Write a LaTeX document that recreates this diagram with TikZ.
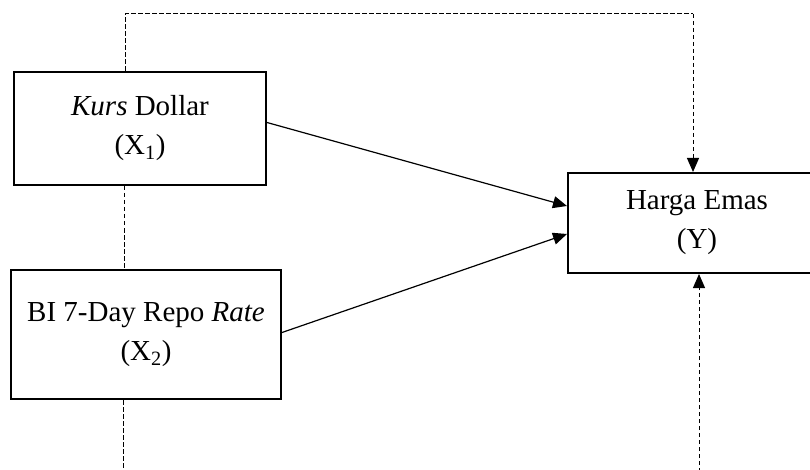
\documentclass[tikz,border=0pt]{standalone}
\usepackage{fontspec}
\setmainfont{Liberation Serif}
\usepackage{tikz}
\usetikzlibrary{
  arrows.meta,
  positioning,
  calc
}
\definecolor{LineBlack}{RGB}{0,0,0}
\newcommand{\varsub}[2]{(#1\textsubscript{#2})}
\tikzset{
  %%── variable boxes ─────────────────────────────────────────
  varbox/.style = {
    rectangle, draw = LineBlack, line width = 2pt,
    inner sep = 0pt, align = center,
    font = \fontsize{29}{39}\selectfont
  },
  %%── arrows ─────────────────────────────────────────────────
  arr/.style  = {-{Triangle[length=14pt, width=12pt]}, line width = 1.2pt, color = LineBlack},
  darr/.style = {line width = 1pt, dash pattern = on 4.5pt off 2.5pt, color = LineBlack},
}

\begin{document}
\begin{tikzpicture}[x=1pt, y=-1pt]
  \useasboundingbox (0,0) rectangle (810,470);
  \clip (0,0) rectangle (810,470);
  \node[varbox, minimum width=252pt, minimum height=113pt] (kurs) at (140,128.5)
    {\textit{Kurs} Dollar\\\varsub{X}{1}};
  \node[varbox, minimum width=270pt, minimum height=129pt] (bi) at (146,334.5)
    {BI 7-Day Repo \textit{Rate}\\\varsub{X}{2}};
  \node[varbox, minimum width=258pt, minimum height=100pt] (harga) at (697,223)
    {Harga Emas\\(Y)};
  \coordinate (topL) at (125,14);
  \coordinate (topR) at (693,14);
  \coordinate (botL) at (123,472);
  \coordinate (botR) at (699,472);
  \draw[arr] ([yshift=6pt]kurs.east) -- ([yshift=17pt]harga.west);
  \draw[arr] ([yshift=2pt]bi.east) -- ([yshift=-11pt]harga.west);
  \draw[darr] (kurs.north -| topL) -- (topL) -- (topR);
  \draw[darr, arr, line width=1pt] (topR) -- (harga.north -| topR);
  \draw[darr] (kurs.south -| 124,0) -- (bi.north -| 124,0);
  \draw[darr] (bi.south -| botL) -- (botL);
  \draw[darr, arr, line width=1pt] (botR) -- (harga.south -| botR);
\end{tikzpicture}
\end{document}
